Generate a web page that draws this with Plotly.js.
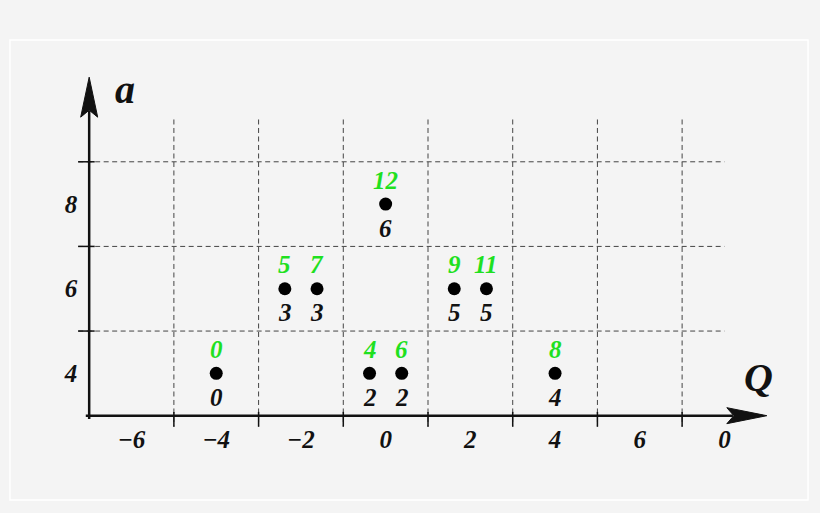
<!DOCTYPE html>
<html>
<head>
<meta charset="utf-8">
<script src="https://cdn.plot.ly/plotly-3.0.1.min.js"></script>
<style>
  html, body { margin: 0; padding: 0; background: #f4f4f4; }
  #chart { width: 820px; height: 513px; }
</style>
</head>
<body>
<div id="chart"></div>
<script>
/* -------------------- Data -------------------- */

const qValues = [-4, -2.38, -1.62, -0.38, 0.38, 0, 1.62, 2.38, 4];
const aValues = [4, 6, 6, 4, 4, 8, 6, 6, 4];
const upperLabels = ["0", "5", "7", "4", "6", "12", "9", "11", "8"];
const lowerLabels = ["0", "3", "3", "2", "2", "6", "5", "5", "4"];

const qTickVals = [-6, -4, -2, 0, 2, 4, 6, 8];
const qTickText = ["\u22126", "\u22124", "\u22122", "0", "2", "4", "6", "0"];
const aTickVals = [4, 6, 8];
const aTickText = ["4", "6", "8"];

const qGrid = [-5, -3, -1, 1, 3, 5, 7];
const aGrid = [5, 7, 9];

/* -------------------- Styles -------------------- */

const SERIF = "Liberation Serif, DejaVu Serif, serif";
const INK = "#111";
const GREEN = "#1fe01f";

const Q_MIN = -7, Q_MAX = 9;   // axis origin / arrow tip
const A_MIN = 3, A_MAX = 11;

/* -------------------- Shapes -------------------- */

const shapes = [];

// white frame of the panel
shapes.push({
  type: "rect", xref: "paper", yref: "paper",
  x0: -0.0806, x1: 1.0278, y0: -0.1045, y1: 1.0398,
  line: { color: "#ffffff", width: 1.5 }, layer: "below",
});

// dashed grid
qGrid.forEach((q) => {
  shapes.push({
    type: "line", x0: q, x1: q, y0: 10, y1: 2.74,
    line: { color: "#444", width: 1, dash: "5px,3.5px" }, layer: "below",
  });
  shapes.push({
    type: "line", x0: q, x1: q, y0: 3.09, y1: 2.74,
    line: { color: INK, width: 1.5 },
  });
});
aGrid.forEach((a) => {
  shapes.push({
    type: "line", x0: -7.26, x1: 8, y0: a, y1: a,
    line: { color: "#444", width: 1, dash: "5px,3.5px" }, layer: "below",
  });
  shapes.push({
    type: "line", x0: -7.26, x1: -6.87, y0: a, y1: a,
    line: { color: INK, width: 1.5 },
  });
});

// axis lines
shapes.push({
  type: "line", x0: Q_MIN - 0.08, x1: Q_MAX - 0.8, y0: A_MIN, y1: A_MIN,
  line: { color: INK, width: 2.5 },
});
shapes.push({
  type: "line", x0: Q_MIN, x1: Q_MIN, y0: A_MIN - 0.08, y1: A_MAX - 0.8,
  line: { color: INK, width: 2.5 },
});

// arrow heads (pixel sized, anchored at the tips)
shapes.push({
  type: "path", xsizemode: "pixel", ysizemode: "pixel",
  xanchor: Q_MAX, yanchor: A_MIN,
  path: "M0,0 L-40,8 L-33,0 L-40,-8 Z",
  fillcolor: INK, line: { color: INK, width: 1 },
});
shapes.push({
  type: "path", xsizemode: "pixel", ysizemode: "pixel",
  xanchor: Q_MIN, yanchor: A_MAX,
  path: "M0,0 L-8.5,-40 L0,-33 L8.5,-40 Z",
  fillcolor: INK, line: { color: INK, width: 1 },
});

/* -------------------- Annotations -------------------- */

const labelFont = (color, size) => ({
  family: SERIF, size: size, color: color, weight: "bold", style: "italic",
});

const annotations = [];

qValues.forEach((q, i) => {
  annotations.push({
    x: q, y: aValues[i], text: upperLabels[i], showarrow: false,
    yshift: 24, font: labelFont(GREEN, 25),
  });
  annotations.push({
    x: q, y: aValues[i], text: lowerLabels[i], showarrow: false,
    yshift: -24, font: labelFont(INK, 25),
  });
});

annotations.push({
  x: Q_MIN, y: A_MAX, text: "a", showarrow: false,
  xshift: 36, yshift: -12, font: labelFont(INK, 40),
});
annotations.push({
  x: Q_MAX, y: A_MIN, text: "Q", showarrow: false,
  xshift: -8, yshift: 38, font: labelFont(INK, 40),
});

/* -------------------- Plot -------------------- */

const trace = {
  x: qValues,
  y: aValues,
  type: "scatter",
  mode: "markers",
  marker: { color: "#000", size: 13 },
  hoverinfo: "skip",
};

const layout = {
  width: 820,
  height: 513,
  margin: { l: 68, r: 32, t: 56, b: 55 },
  paper_bgcolor: "#f4f4f4",
  plot_bgcolor: "#f4f4f4",
  showlegend: false,
  xaxis: {
    range: [-7.5, 9.5],
    anchor: "free",
    position: (A_MIN - 2) / 9.5,
    showgrid: false,
    zeroline: false,
    showline: false,
    ticks: "",
    tickvals: qTickVals,
    ticktext: qTickText,
    tickfont: labelFont(INK, 25),
    ticklabelstandoff: 6,
  },
  yaxis: {
    range: [2, 11.5],
    anchor: "free",
    position: (Q_MIN + 7.5) / 17,
    showgrid: false,
    zeroline: false,
    showline: false,
    ticks: "",
    tickvals: aTickVals,
    ticktext: aTickText,
    tickfont: labelFont(INK, 25),
    ticklabelstandoff: 12,
  },
  shapes: shapes,
  annotations: annotations,
};

Plotly.newPlot("chart", [trace], layout, { displayModeBar: false, staticPlot: true });
</script>
</body>
</html>
